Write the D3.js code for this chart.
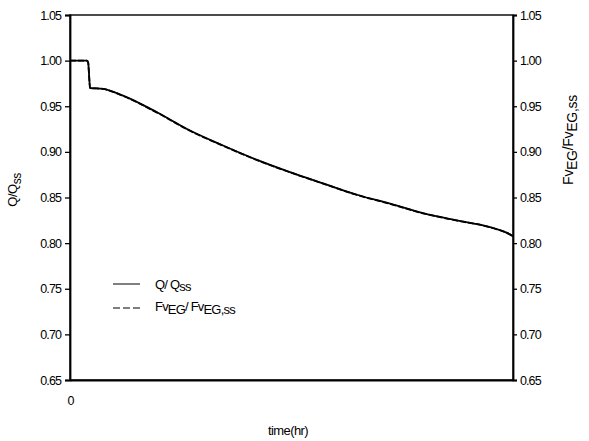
<!DOCTYPE html>
<html>
<head>
<meta charset="utf-8">
<script src="https://cdn.jsdelivr.net/npm/d3@7"></script>
<style>
  html, body { margin: 0; padding: 0; background: #fff; }
  svg { display: block; }
  text { font-family: "Liberation Sans", Arial, sans-serif; fill: #000; }
</style>
</head>
<body>
<svg id="chart" width="589" height="441"></svg>
<script>
// Normalised flow and EG viscosity-fraction over time
const timeHr = [0, 1.9, 2.05, 2.15, 2.26, 3.72, 5.98, 9.82, 13.54, 17.27, 21.11, 24.83, 28.56, 32.39, 36.12, 39.84, 43.68, 47.40, 49.66, 50];
const qRatio = [1.000, 1.000, 0.998, 0.985, 0.970, 0.969, 0.9617, 0.9434, 0.9234, 0.9070, 0.8912, 0.8778, 0.8655, 0.8530, 0.8432, 0.8329, 0.8249, 0.8176, 0.8096, 0.8075];
const fvRatio = [1.000, 1.000, 0.998, 0.984, 0.970, 0.969, 0.9614, 0.9430, 0.9231, 0.9067, 0.8910, 0.8776, 0.8653, 0.8528, 0.8430, 0.8327, 0.8247, 0.8174, 0.8094, 0.8073];
const yTicks = [0.65, 0.70, 0.75, 0.80, 0.85, 0.90, 0.95, 1.00, 1.05];
const xTicks = [0];

const svg = d3.select("#chart");
const plotL = 70, plotR = 513, plotT = 15, plotB = 380;

const x = d3.scaleLinear().domain([0, 50]).range([plotL, plotR]);
const y = d3.scaleLinear().domain([0.65, 1.05]).range([plotB, plotT]);

// frame
svg.append("rect")
  .attr("x", plotL).attr("y", plotT)
  .attr("width", plotR - plotL).attr("height", plotB - plotT)
  .attr("fill", "none").attr("stroke", "#000").attr("stroke-width", 1.4);

const fmt = d3.format(".2f");
const styleAxis = g => {
  g.select(".domain").attr("stroke", "#000").attr("stroke-width", 1.8);
  g.selectAll(".tick line").attr("stroke", "#000").attr("stroke-width", 1.3);
  g.selectAll(".tick text")
    .style("font-family", "'Liberation Sans', Arial, sans-serif")
    .style("font-size", "12.5px").style("letter-spacing", "-0.9px").attr("fill", "#000");
};

svg.append("g").attr("transform", `translate(${plotL},0)`)
  .call(d3.axisLeft(y).tickValues(yTicks).tickFormat(fmt).tickSize(5).tickPadding(4))
  .call(styleAxis);

svg.append("g").attr("transform", `translate(${plotR},0)`)
  .call(d3.axisRight(y).tickValues(yTicks).tickFormat(fmt).tickSize(4).tickPadding(3))
  .call(styleAxis);

svg.append("g").attr("transform", `translate(0,${plotB})`)
  .call(d3.axisBottom(x).tickValues(xTicks).tickFormat(d3.format("d")).tickSize(0).tickPadding(16))
  .call(styleAxis);

// curves
const line = vals => d3.line()
  .x((d, i) => x(timeHr[i]))
  .y(d => y(d))
  .curve(d3.curveMonotoneX)(vals);

svg.append("path").attr("d", line(qRatio))
  .attr("fill", "none").attr("stroke", "#000").attr("stroke-width", 1.8);
svg.append("path").attr("d", line(fvRatio))
  .attr("fill", "none").attr("stroke", "#000").attr("stroke-width", 1.8)
  .attr("stroke-dasharray", "6,2");

// legend
const lg = svg.append("g");
lg.append("line").attr("x1", 113).attr("x2", 140).attr("y1", 284).attr("y2", 284)
  .attr("stroke", "#000").attr("stroke-width", 1);
lg.append("line").attr("x1", 113).attr("x2", 140).attr("y1", 308).attr("y2", 308)
  .attr("stroke", "#000").attr("stroke-width", 1.2).attr("stroke-dasharray", "7,3");

const t1 = lg.append("text").attr("x", 155).attr("y", 289)
  .style("font-size", "13px").style("letter-spacing", "-0.8px");
t1.append("tspan").text("Q/ Q");
t1.append("tspan").attr("dy", 2).text("ss");

const t2 = lg.append("text").attr("x", 155).attr("y", 311)
  .style("font-size", "13px").style("letter-spacing", "-0.8px");
t2.append("tspan").text("Fv");
t2.append("tspan").attr("dy", 3).text("EG");
t2.append("tspan").attr("dy", -3).text("/ Fv");
t2.append("tspan").attr("dy", 3).text("EG,ss");

// axis titles
const yl = svg.append("text")
  .attr("transform", "translate(17,190) rotate(-90)")
  .attr("text-anchor", "middle")
  .style("font-size", "13px").style("letter-spacing", "-0.5px");
yl.append("tspan").text("Q/Q");
yl.append("tspan").attr("dy", 4).style("font-size", "12px").text("ss");

const yr = svg.append("text")
  .attr("transform", "translate(573,140) rotate(-90)")
  .attr("text-anchor", "middle")
  .style("font-size", "14px").style("letter-spacing", "-0.3px");
yr.append("tspan").text("Fv");
yr.append("tspan").attr("dy", 4).text("EG");
yr.append("tspan").attr("dy", -4).text("/Fv");
yr.append("tspan").attr("dy", 4).text("EG,ss");

svg.append("text").attr("x", 288).attr("y", 435)
  .attr("text-anchor", "middle")
  .style("font-size", "13px").style("letter-spacing", "-0.6px")
  .text("time(hr)");
</script>
</body>
</html>
